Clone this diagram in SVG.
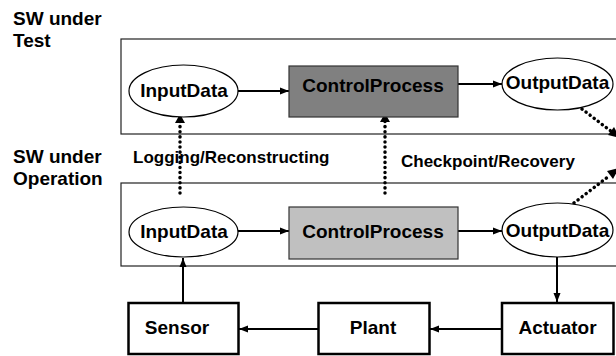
<svg xmlns="http://www.w3.org/2000/svg" width="616" height="356" viewBox="0 0 616 356">
  <style>
    text { font-family: "Liberation Sans", Arial, Helvetica, sans-serif; font-weight: bold; fill: #000; }
    .node { font-size: 19px; text-anchor: middle; }
    .side { font-size: 19px; }
    .lbl { font-size: 17px; }
    .frame { fill: none; stroke: #222; stroke-width: 1.2; }
    .ell { fill: #fff; stroke: #000; stroke-width: 1.2; }
    .proc { stroke: #333; stroke-width: 1.2; }
    .blk { fill: #fff; stroke: #000; stroke-width: 2.5; }
    .solid { fill: none; stroke: #000; stroke-width: 2; }
    .dots { fill: none; stroke: #000; stroke-width: 3.5; stroke-linecap: round; stroke-dasharray: 0.1 5; }
  </style>
  <defs>
    <marker id="arrow" markerUnits="userSpaceOnUse" markerWidth="10" markerHeight="10" viewBox="0 0 10 10" refX="9" refY="5" orient="auto">
      <path d="M0,1.5 L9,5 L0,8.5 z" fill="#000"/>
    </marker>
    <marker id="arrowBig" markerUnits="userSpaceOnUse" markerWidth="12" markerHeight="12" viewBox="0 0 12 12" refX="11" refY="6" orient="auto">
      <path d="M0,0.5 L11,6 L0,11.5 z" fill="#000"/>
    </marker>
  </defs>

  <!-- layer frames and their captions -->
  <g id="frame-test">
    <rect class="frame" x="121" y="39" width="500" height="95"/>
    <text class="side" x="13" y="25">SW under</text>
    <text class="side" x="13" y="47">Test</text>
  </g>
  <g id="frame-operation">
    <rect class="frame" x="121" y="183" width="500" height="83"/>
    <text class="side" x="13" y="163">SW under</text>
    <text class="side" x="13" y="185">Operation</text>
  </g>

  <!-- connectors -->
  <g id="connectors">
    <line class="solid" x1="238" y1="91" x2="289" y2="91" marker-end="url(#arrow)"/>
    <line class="solid" x1="458" y1="84" x2="502" y2="84" marker-end="url(#arrow)"/>
    <line class="solid" x1="238" y1="231" x2="289" y2="231" marker-end="url(#arrow)"/>
    <line class="solid" x1="458" y1="231" x2="502" y2="231" marker-end="url(#arrow)"/>
    <line class="solid" x1="557" y1="257" x2="557" y2="302" marker-end="url(#arrow)"/>
    <line class="solid" x1="501" y1="329" x2="430" y2="329" marker-end="url(#arrow)"/>
    <line class="solid" x1="318" y1="329" x2="239" y2="329" marker-end="url(#arrow)"/>
    <line class="solid" x1="183" y1="302" x2="183" y2="258" marker-end="url(#arrow)"/>
    <line class="dots" x1="180" y1="193" x2="180" y2="120"/>
    <path d="M180,114 L185,123 L175,123 z" fill="#000"/>
    <line class="dots" x1="385" y1="193" x2="385" y2="119"/>
    <path d="M385,113 L390,122 L380,122 z" fill="#000"/>
    <line class="dots" x1="582" y1="109" x2="612" y2="132"/>
    <path d="M620,138 L608,135 L614,127 z" fill="#000"/>
    <line class="dots" x1="574" y1="203" x2="609" y2="176"/>
    <path d="M619,168 L613,179 L607,171 z" fill="#000"/>
    <text class="lbl" x="133" y="163">Logging/Reconstructing</text>
    <text class="lbl" x="401" y="167">Checkpoint/Recovery</text>
  </g>

  <!-- SW under Test -->
  <g id="test-input">
    <ellipse class="ell" cx="183.5" cy="91" rx="54.5" ry="26"/>
    <text class="node" x="184" y="97">InputData</text>
  </g>
  <g id="test-control">
    <rect class="proc" x="289" y="66" width="169" height="51" fill="#808080"/>
    <text class="node" x="373" y="92">ControlProcess</text>
  </g>
  <g id="test-output">
    <ellipse class="ell" cx="557.5" cy="84" rx="55.5" ry="26"/>
    <text class="node" x="557.5" y="89">OutputData</text>
  </g>

  <!-- SW under Operation -->
  <g id="op-input">
    <ellipse class="ell" cx="183.5" cy="232" rx="54.5" ry="25"/>
    <text class="node" x="184" y="238">InputData</text>
  </g>
  <g id="op-control">
    <rect class="proc" x="289" y="207" width="169" height="52" fill="#c0c0c0"/>
    <text class="node" x="373" y="238">ControlProcess</text>
  </g>
  <g id="op-output">
    <ellipse class="ell" cx="557.5" cy="230" rx="55.5" ry="27"/>
    <text class="node" x="557.5" y="237">OutputData</text>
  </g>

  <!-- physical loop -->
  <g id="sensor">
    <rect class="blk" x="128.5" y="303" width="110" height="51"/>
    <text class="node" x="177" y="334">Sensor</text>
  </g>
  <g id="plant">
    <rect class="blk" x="318.5" y="303" width="111" height="51"/>
    <text class="node" x="373" y="334">Plant</text>
  </g>
  <g id="actuator">
    <rect class="blk" x="502" y="303" width="111.5" height="51"/>
    <text class="node" x="557.5" y="334">Actuator</text>
  </g>
</svg>
